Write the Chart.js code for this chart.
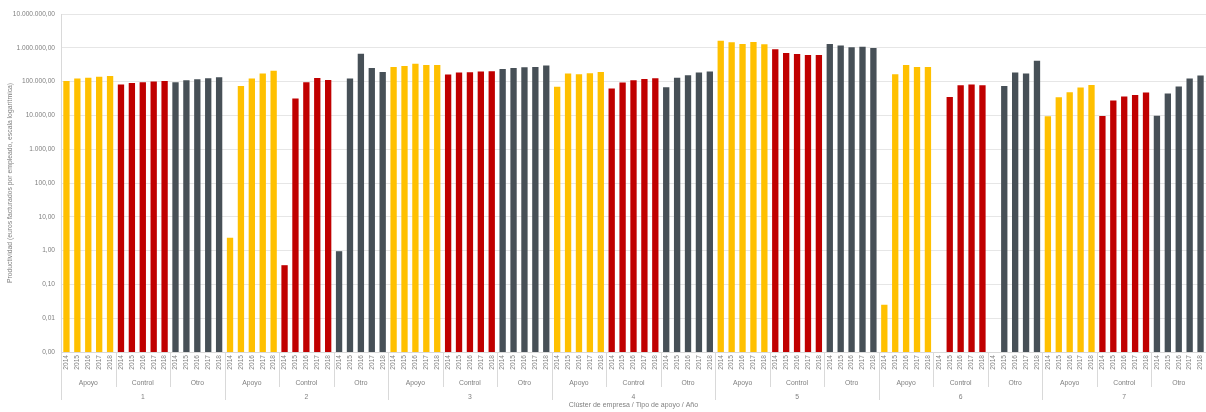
<!DOCTYPE html>
<html>
<head>
<meta charset="utf-8">
<script src="https://cdn.jsdelivr.net/npm/chart.js@4"></script>
<style>
  html, body { margin: 0; padding: 0; background: #ffffff; }
  #wrap { width: 1206px; height: 412px; }
</style>
</head>
<body>
<div id="wrap"><canvas id="c" width="1206" height="412"></canvas></div>
<script>
// ---- data ----
const clusters = ['1', '2', '3', '4', '5', '6', '7'];
const supportTypes = ['Apoyo', 'Control', 'Otro'];
const years = ['2014', '2015', '2016', '2017', '2018'];

// values per cluster (5 years each), in cluster order 1..7
const apoyoValues = [
  105000, 123000, 131000, 140000, 147000,
  2.4, 74500, 123000, 173000, 211000,
  271000, 290000, 340000, 311000, 311000,
  71000, 173000, 165000, 176000, 193000,
  1630000, 1450000, 1300000, 1490000, 1270000,
  0.025, 165000, 311000, 271000, 271000,
  9450, 34400, 48400, 66500, 79700
];
const controlValues = [
  81500, 91300, 95600, 100000, 104600,
  0.37, 31500, 95600, 128000, 112000,
  161000, 184500, 189000, 197500, 202000,
  62100, 93400, 109500, 120000, 125400,
  903000, 703000, 657000, 614000, 614000,
  null, 35200, 77900, 81500, 77900,
  9670, 27400, 36000, 40400, 47300
];
const otroValues = [
  95600, 109500, 117000, 125400, 134000,
  0.96, 123000, 672000, 253000, 193000,
  237000, 253000, 265000, 271000, 297000,
  68000, 131000, 154000, 184500, 197500,
  1300000, 1160000, 1035000, 1080000, 989000,
  null, 74500, 184500, 173000, 417000,
  9700, 44200, 71100, 122700, 150400
];
const yTickValues = [0.001, 0.01, 0.1, 1, 10, 100, 1000, 10000, 100000, 1000000, 10000000];

const yTitle = 'Productividad (euros facturados por empleado, escala logarítmica)';
const xTitle = 'Clúster de empresa / Tipo de apoyo / Año';

// ---- build category tables ----
const seriesByType = [apoyoValues, controlValues, otroValues];
const yearLabels = [];
const typeLabels = [];
const series = supportTypes.map(() => []);
clusters.forEach((cl, ci) => {
  supportTypes.forEach((t, ti) => {
    typeLabels.push(t);
    years.forEach((y, yi) => {
      yearLabels.push(y);
      supportTypes.forEach((_, k) => {
        series[k].push(k === ti ? seriesByType[ti][ci * years.length + yi] : null);
      });
    });
  });
});

const colors = ['#FFC000', '#C00000', '#475057'];
const FONT = 'Liberation Sans';
const TXT = '#7F7F7F';
const LINE = '#D9D9D9';

function fmtEs(v) {
  const parts = Number(v).toFixed(2).split('.');
  const ip = parts[0].replace(/\B(?=(\d{3})+(?!\d))/g, '.');
  return ip + ',' + parts[1];
}

const separators = {
  id: 'separators',
  afterDraw(chart) {
    const xs = chart.scales.x;
    const ctx = chart.ctx;
    const n = yearLabels.length;
    const w = xs.getPixelForValue(1) - xs.getPixelForValue(0);
    const top = chart.chartArea.bottom;
    ctx.save();
    ctx.strokeStyle = LINE;
    ctx.lineWidth = 1;
    const per = years.length;
    const perCluster = years.length * supportTypes.length;
    for (let b = 0; b <= n; b += per) {
      const px = Math.round((b < n ? xs.getPixelForValue(b) - w / 2 : xs.getPixelForValue(n - 1) + w / 2)) + 0.5;
      const bottom = (b % perCluster === 0) ? chart.scales.x3.top + 11 : chart.scales.x2.bottom - 2;
      ctx.beginPath();
      ctx.moveTo(px, top);
      ctx.lineTo(px, bottom);
      ctx.stroke();
    }
    ctx.restore();
  }
};

const noGrid = { display: false, drawTicks: false, tickLength: 0 };
const fitX = (h) => (s) => { s.height = h; s.paddingLeft = 0; s.paddingRight = 0; };

new Chart(document.getElementById('c'), {
  type: 'bar',
  data: {
    labels: yearLabels,
    datasets: supportTypes.map((t, k) => ({
      label: t,
      data: series[k],
      backgroundColor: colors[k],
      borderWidth: 0,
      grouped: false,
      categoryPercentage: 1,
      barPercentage: 0.58
    }))
  },
  options: {
    responsive: false,
    animation: false,
    devicePixelRatio: 1,
    layout: { padding: { top: 14, right: -2, bottom: 0, left: 0 } },
    plugins: { legend: { display: false }, tooltip: { enabled: false } },
    scales: {
      y: {
        type: 'logarithmic',
        min: 0.001,
        max: 10000000,
        afterBuildTicks: (s) => { s.ticks = yTickValues.map(v => ({ value: v })); },
        afterFit: (s) => { s.width = 61; },
        ticks: {
          callback: (v) => fmtEs(v),
          font: { family: FONT, size: 6.6 },
          color: TXT,
          padding: 6
        },
        grid: { color: '#E6E6E6', drawTicks: false, tickLength: 0 },
        border: { display: true, color: LINE },
        title: {
          display: true,
          text: yTitle,
          font: { family: FONT, size: 6.8 },
          color: TXT,
          padding: { top: 6, bottom: 0 }
        }
      },
      x: {
        type: 'category',
        position: 'bottom',
        offset: true,
        afterFit: fitX(24),
        ticks: {
          autoSkip: false,
          minRotation: 90,
          maxRotation: 90,
          font: { family: FONT, size: 6.6 },
          color: TXT,
          padding: 3
        },
        grid: noGrid,
        border: { display: true, color: LINE }
      },
      x2: {
        type: 'category',
        position: 'bottom',
        labels: typeLabels,
        offset: true,
        afterFit: fitX(13),
        ticks: {
          autoSkip: false,
          maxRotation: 0,
          font: { family: FONT, size: 6.8 },
          color: TXT,
          padding: 3
        },
        grid: noGrid,
        border: { display: false }
      },
      x3: {
        type: 'category',
        position: 'bottom',
        labels: clusters,
        offset: true,
        afterFit: fitX(23),
        ticks: {
          autoSkip: false,
          maxRotation: 0,
          font: { family: FONT, size: 6.8 },
          color: TXT,
          padding: 4
        },
        grid: noGrid,
        border: { display: false },
        title: {
          display: true,
          text: xTitle,
          font: { family: FONT, size: 7 },
          color: TXT,
          padding: { top: 0, bottom: 3 }
        }
      }
    }
  },
  plugins: [separators]
});
</script>
</body>
</html>
